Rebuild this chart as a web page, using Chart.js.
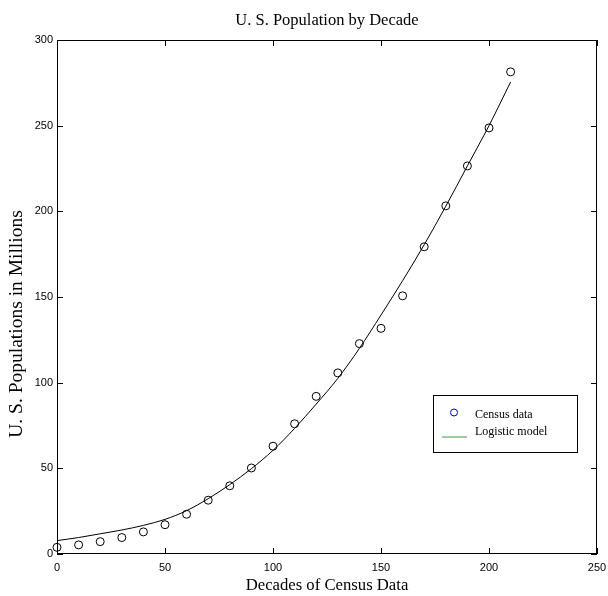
<!DOCTYPE html>
<html>
<head>
<meta charset="utf-8">
<title>U. S. Population by Decade</title>
<script src="https://cdn.jsdelivr.net/npm/chart.js@4/dist/chart.umd.min.js"></script>
<style>
  html, body { margin: 0; padding: 0; background: #fff; }
  canvas { display: block; }
</style>
</head>
<body>
<canvas id="chart" width="608" height="596"></canvas>
<script>
// Decades since 1790 and the census counts (millions)
const decades = [0, 10, 20, 30, 40, 50, 60, 70, 80, 90, 100, 110, 120, 130, 140, 150, 160, 170, 180, 190, 200, 210];
const censusData = [3.9, 5.3, 7.2, 9.6, 12.9, 17.1, 23.2, 31.4, 39.8, 50.2, 62.9, 76.0, 92.0, 105.7, 122.8, 131.7, 150.7, 179.3, 203.2, 226.5, 248.7, 281.4];
// Fitted logistic model evaluated at the same decades
const logisticModel = [7.8, 9.6, 11.8, 14.0, 16.7, 20.2, 25.3, 32.3, 40.5, 49.8, 60.5, 73.3, 87.5, 102.5, 120.0, 139.5, 159.5, 180.5, 203.0, 226.5, 250.0, 275.5];
const xTicks = [0, 50, 100, 150, 200, 250];
const yTicks = [0, 50, 100, 150, 200, 250, 300];
const seriesNames = ['Census data', 'Logistic model'];
const yAxisTitle = 'U. S. Populations in Millions';

const SERIF = '"Liberation Serif", "Times New Roman", Times, serif';
const SANS = '"Liberation Sans", Arial, Helvetica, sans-serif';

const toPoints = (xs, ys) => xs.map((x, i) => ({ x: x, y: ys[i] }));

// Axes box with inward tick marks on all four sides
const axesBox = {
  id: 'axesBox',
  afterDraw(chart) {
    const { ctx, chartArea: a } = chart;
    const sx = chart.scales.x, sy = chart.scales.y;
    const len = 6;
    ctx.save();
    ctx.strokeStyle = '#000';
    ctx.lineWidth = 1;
    ctx.strokeRect(a.left + 0.5, a.top + 0.5, a.right - a.left - 1, a.bottom - a.top - 1);
    ctx.beginPath();
    xTicks.forEach(v => {
      const px = Math.round(sx.getPixelForValue(v)) + 0.5;
      ctx.moveTo(px, a.bottom); ctx.lineTo(px, a.bottom - len);
      ctx.moveTo(px, a.top); ctx.lineTo(px, a.top + len);
    });
    yTicks.forEach(v => {
      const py = Math.round(sy.getPixelForValue(v)) + 0.5;
      ctx.moveTo(a.left, py); ctx.lineTo(a.left + len, py);
      ctx.moveTo(a.right, py); ctx.lineTo(a.right - len, py);
    });
    ctx.stroke();
    ctx.restore();
  }
};

// Rotated y-axis title, set slightly below the axis midpoint
const yTitle = {
  id: 'yTitle',
  afterDraw(chart) {
    const { ctx, chartArea: a } = chart;
    ctx.save();
    ctx.translate(17, (a.top + a.bottom) / 2 + 27);
    ctx.rotate(-Math.PI / 2);
    ctx.fillStyle = '#000';
    ctx.font = '19.5px ' + SERIF;
    ctx.textAlign = 'center';
    ctx.textBaseline = 'middle';
    ctx.fillText(yAxisTitle, 0, 0);
    ctx.restore();
  }
};

// Boxed legend in the lower right of the plot
const boxedLegend = {
  id: 'boxedLegend',
  afterDraw(chart) {
    const { ctx, chartArea: a } = chart;
    const left = a.right - 164, top = a.top + 355, w = 144, h = 57;
    ctx.save();
    ctx.fillStyle = '#fff';
    ctx.fillRect(left, top, w, h);
    ctx.strokeStyle = '#000';
    ctx.lineWidth = 1;
    ctx.strokeRect(left + 0.5, top + 0.5, w, h);
    // marker sample
    ctx.strokeStyle = '#0000ff';
    ctx.beginPath();
    ctx.arc(left + 21, top + 17.5, 3.5, 0, Math.PI * 2);
    ctx.stroke();
    // line sample
    ctx.strokeStyle = '#3a9a3a';
    ctx.beginPath();
    ctx.moveTo(left + 9, top + 42);
    ctx.lineTo(left + 34, top + 42);
    ctx.stroke();
    ctx.fillStyle = '#000';
    ctx.font = '12px ' + SERIF;
    ctx.textBaseline = 'middle';
    ctx.textAlign = 'left';
    ctx.fillText(seriesNames[0], left + 42, top + 20);
    ctx.fillText(seriesNames[1], left + 42, top + 37);
    ctx.restore();
  }
};

new Chart(document.getElementById('chart'), {
  type: 'scatter',
  data: {
    datasets: [
      {
        label: seriesNames[0],
        data: toPoints(decades, censusData),
        showLine: false,
        pointStyle: 'circle',
        pointRadius: 4,
        pointBorderWidth: 1,
        pointBorderColor: '#000',
        pointBackgroundColor: 'rgba(0,0,0,0)',
        clip: false
      },
      {
        label: seriesNames[1],
        data: toPoints(decades, logisticModel),
        showLine: true,
        borderColor: '#000',
        borderWidth: 1,
        pointRadius: 0,
        cubicInterpolationMode: 'monotone',
        fill: false
      }
    ]
  },
  options: {
    responsive: false,
    animation: false,
    devicePixelRatio: 1,
    layout: { padding: { top: 0, right: 11, bottom: 0, left: 0 } },
    plugins: {
      legend: { display: false },
      tooltip: { enabled: false },
      title: {
        display: true,
        fullSize: false,
        text: 'U. S. Population by Decade',
        color: '#000',
        font: { family: SERIF, size: 16.5, weight: 'normal' },
        padding: { top: 11, bottom: 9.2 }
      }
    },
    scales: {
      x: {
        type: 'linear',
        min: 0,
        max: 250,
        afterBuildTicks: s => { s.ticks = xTicks.map(v => ({ value: v })); },
        afterFit: s => { s.height = 42; s.paddingLeft = 0; s.paddingRight = 0; },
        grid: { display: false, drawTicks: false },
        border: { display: false },
        ticks: { color: '#000', font: { family: SANS, size: 11 }, padding: 7, maxRotation: 0 },
        title: {
          display: true,
          text: 'Decades of Census Data',
          color: '#000',
          font: { family: SERIF, size: 16.7 },
          padding: { top: 0, bottom: 0 }
        }
      },
      y: {
        type: 'linear',
        min: 0,
        max: 300,
        afterBuildTicks: s => { s.ticks = yTicks.map(v => ({ value: v })); },
        afterFit: s => { s.width = 57; s.paddingTop = 0; s.paddingBottom = 0; },
        grid: { display: false, drawTicks: false },
        border: { display: false },
        ticks: { color: '#000', font: { family: SANS, size: 11 }, padding: 4 },
        title: { display: false }
      }
    }
  },
  plugins: [axesBox, yTitle, boxedLegend]
});
</script>
</body>
</html>
